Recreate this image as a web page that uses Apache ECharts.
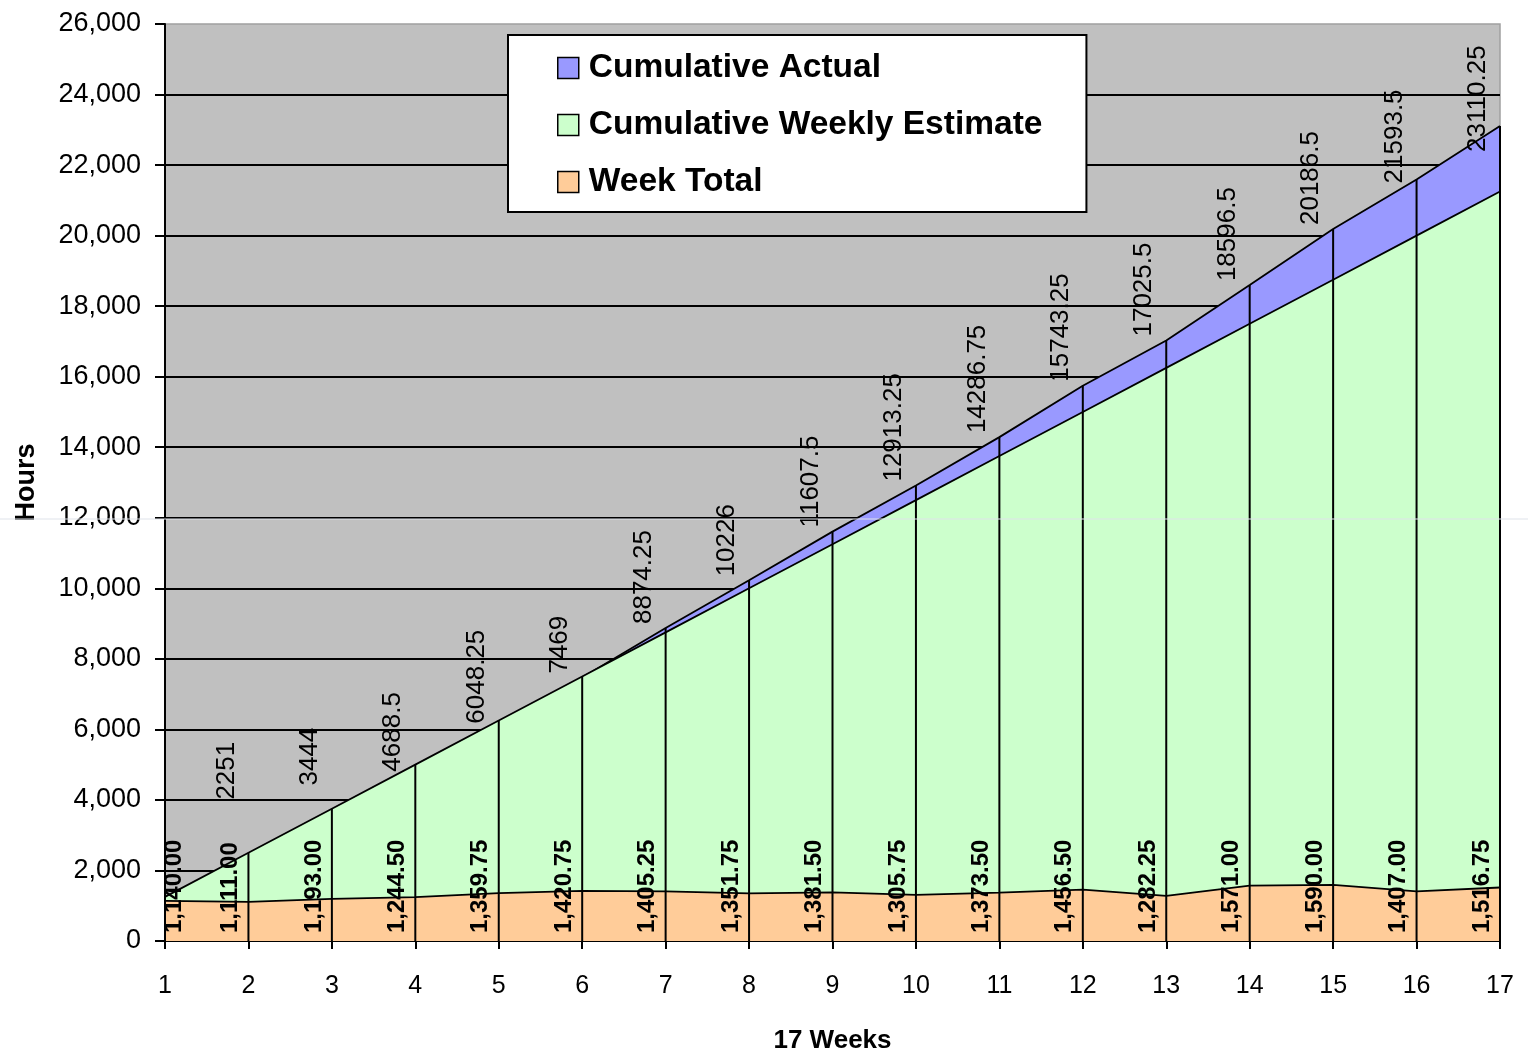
<!DOCTYPE html>
<html>
<head>
<meta charset="utf-8">
<style>
  html, body { margin: 0; padding: 0; background: #fff; }
  #chart { width: 1528px; height: 1054px; }
</style>
<script src="https://cdn.jsdelivr.net/npm/echarts@6/dist/echarts.min.js"></script>
</head>
<body>
<div id="chart"></div>
<script>
// Weekly project hours over 17 weeks
const weeks = ['1', '2', '3', '4', '5', '6', '7', '8', '9', '10', '11', '12', '13', '14', '15', '16', '17'];
const cumulativeActual = [1140, 2251, 3444, 4688.5, 6048.25, 7469, 8874.25, 10226, 11607.5, 12913.25, 14286.75, 15743.25, 17025.5, 18596.5, 20186.5, 21593.5, 23110.25];
const cumulativeEstimate = [1250, 2500, 3750, 5000, 6250, 7500, 8750, 10000, 11250, 12500, 13750, 15000, 16250, 17500, 18750, 20000, 21250];
const weekTotal = [1140, 1111, 1193, 1244.5, 1359.75, 1420.75, 1405.25, 1351.75, 1381.5, 1305.75, 1373.5, 1456.5, 1282.25, 1571, 1590, 1407, 1516.75];
const seriesNames = ['Cumulative Actual', 'Cumulative Weekly Estimate', 'Week Total'];
const hoursMax = 26000;
const hoursStep = 2000;

const FONT = '"Liberation Sans", Arial, sans-serif';
const COLORS = { actual: '#9999ff', estimate: '#ccffcc', total: '#ffcc99' };
const GRID = { left: 165, right: 28, top: 24, bottom: 113 };

// vertical nudges for a few cumulative labels that would otherwise collide
const actualLabelShift = { 1: -58, 2: -30, 15: 8, 16: 30 };

const rows = weeks.map((w, i) => [i, cumulativeActual[i], cumulativeEstimate[i], weekTotal[i]]);

function fmt2(v) {
  return v.toLocaleString('en-US', { minimumFractionDigits: 2, maximumFractionDigits: 2 });
}

function areaSeries(name, data, fill, z) {
  return {
    name: name,
    type: 'line',
    data: data,
    z: z,
    symbol: 'none',
    showSymbol: false,
    itemStyle: { color: fill },
    lineStyle: { color: '#000', width: 1.8 },
    areaStyle: { color: fill, opacity: 1, origin: 'start' },
    emphasis: { disabled: true },
    animation: false
  };
}

const option = {
  animation: false,
  backgroundColor: '#ffffff',
  grid: {
    left: GRID.left, right: GRID.right, top: GRID.top, bottom: GRID.bottom,
    containLabel: false,
    outerBoundsMode: 'none',
    show: true, backgroundColor: '#c0c0c0', borderColor: '#a0a0a0', borderWidth: 1.5
  },
  legend: {
    orient: 'vertical',
    left: 508, top: 35,
    padding: [15, 44, 12, 49],
    backgroundColor: '#ffffff',
    borderColor: '#000', borderWidth: 2,
    itemWidth: 21, itemHeight: 21, itemGap: 21,
    icon: 'rect',
    selectedMode: false,
    textStyle: { fontFamily: FONT, fontWeight: 'bold', fontSize: 33.5, color: '#000', lineHeight: 36, padding: [0, 0, 0, 5] },
    data: [
      { name: seriesNames[0], itemStyle: { color: COLORS.actual, borderColor: '#000', borderWidth: 1.5 } },
      { name: seriesNames[1], itemStyle: { color: COLORS.estimate, borderColor: '#000', borderWidth: 1.5 } },
      { name: seriesNames[2], itemStyle: { color: COLORS.total, borderColor: '#000', borderWidth: 1.5 } }
    ],
    z: 20
  },
  xAxis: {
    type: 'category',
    data: weeks,
    boundaryGap: false,
    name: '17 Weeks',
    nameLocation: 'middle',
    nameGap: 87,
    nameTextStyle: { fontFamily: FONT, fontWeight: 'bold', fontSize: 26, color: '#000' },
    axisLine: { lineStyle: { color: '#000', width: 2 } },
    axisTick: { show: true, length: 8, alignWithLabel: true, lineStyle: { color: '#000', width: 2 } },
    axisLabel: { fontFamily: FONT, fontSize: 25, color: '#000', margin: 33 },
    splitLine: { show: false }
  },
  yAxis: {
    type: 'value',
    min: 0, max: hoursMax, interval: hoursStep,
    name: 'Hours',
    nameLocation: 'middle',
    nameRotate: 90,
    nameGap: 125,
    nameTextStyle: { fontFamily: FONT, fontWeight: 'bold', fontSize: 27, color: '#000' },
    axisLine: { show: true, lineStyle: { color: '#000', width: 2 } },
    axisTick: { show: true, length: 10, lineStyle: { color: '#000', width: 2 } },
    axisLabel: {
      fontFamily: FONT, fontSize: 27, color: '#000', margin: 24,
      formatter: v => v.toLocaleString('en-US')
    },
    splitLine: { show: true, showMaxLine: false, lineStyle: { color: '#000', width: 2 } }
  },
  series: [
    areaSeries(seriesNames[0], cumulativeActual, COLORS.actual, 2),
    areaSeries(seriesNames[1], cumulativeEstimate, COLORS.estimate, 3),
    areaSeries(seriesNames[2], weekTotal, COLORS.total, 4),
    {
      // drop lines from the highest cumulative point to the axis
      type: 'custom',
      data: rows,
      encode: { x: 0, y: 1 },
      silent: true,
      z: 5,
      renderItem: function (params, api) {
        const i = api.value(0);
        const top = Math.max(api.value(1), api.value(2));
        const p1 = api.coord([i, top]);
        const p0 = api.coord([i, 0]);
        return {
          type: 'line',
          shape: { x1: p1[0], y1: p1[1], x2: p0[0], y2: p0[1] },
          style: { stroke: '#000', lineWidth: 2 }
        };
      }
    },
    {
      // value labels: cumulative actual above the line, week total at the base
      type: 'custom',
      data: rows,
      encode: { x: 0, y: 1 },
      silent: true,
      z: 6,
      renderItem: function (params, api) {
        const i = api.value(0);
        const children = [];
        const base = api.coord([i, 0]);
        const left = params.coordSys.x;
        children.push({
          type: 'text',
          x: Math.max(base[0] - 18, left + 9),
          y: base[1] - 8,
          rotation: Math.PI / 2,
          style: {
            text: fmt2(weekTotal[i]),
            fill: '#000',
            font: 'bold 24px ' + FONT,
            align: 'left',
            verticalAlign: 'middle'
          }
        });
        if (i > 0) {
          const p = api.coord([i, api.value(1)]);
          children.push({
            type: 'text',
            x: p[0] - 22,
            y: p[1] - 4 + (actualLabelShift[i] || 0),
            rotation: Math.PI / 2,
            style: {
              text: String(cumulativeActual[i]),
              fill: '#000',
              font: '26px ' + FONT,
              align: 'left',
              verticalAlign: 'middle'
            }
          });
        }
        return { type: 'group', children: children };
      }
    }
  ],
  graphic: [
    {
      type: 'line',
      shape: { x1: 0, y1: 519, x2: 1528, y2: 519 },
      style: { stroke: '#dfe3ea', lineWidth: 1 },
      silent: true,
      z: 30
    }
  ]
};

const chart = echarts.init(document.getElementById('chart'), null, { renderer: 'canvas' });
chart.setOption(option);
</script>
</body>
</html>
